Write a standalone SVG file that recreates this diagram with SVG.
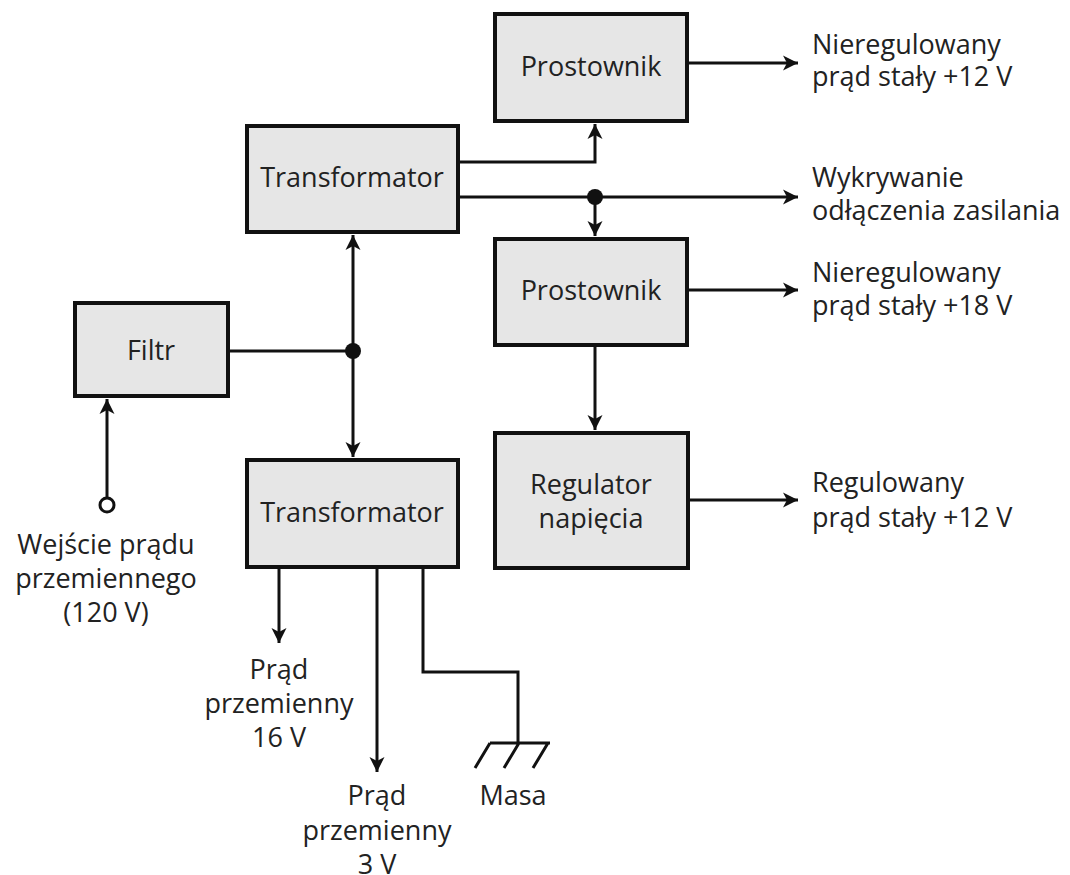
<svg xmlns="http://www.w3.org/2000/svg" width="1070" height="875" viewBox="0 0 1070 875">
  <style>
    .box { fill: #e6e6e6; stroke: #111; stroke-width: 4; }
    .wire { fill: none; stroke: #111; stroke-width: 3; stroke-linejoin: miter; }
    .arrow { marker-end: url(#head); }
    .both { marker-start: url(#head); marker-end: url(#head); }
    .dot { fill: #111; }
    text { font-family: "Open Sans", "Noto Sans", "Liberation Sans", sans-serif; font-size: 27px; fill: #222; }
    .c { text-anchor: middle; }
  </style>
  <defs>
    <marker id="head" viewBox="-16 -9 17 18" refX="0" refY="0" markerWidth="17" markerHeight="18" markerUnits="userSpaceOnUse" orient="auto-start-reverse">
      <path d="M0,0 L-15,-7.5 L-11,0 L-15,7.5 Z" fill="#111"/>
    </marker>
  </defs>

  <!-- connectors -->
  <g id="connectors">
    <!-- AC input to filter -->
    <path class="wire arrow" d="M107,497 V399"/>
    <circle cx="107" cy="505" r="7" fill="#fff" stroke="#111" stroke-width="3"/>
    <!-- filter to both transformers -->
    <path class="wire" d="M230,351 H353"/>
    <path class="wire both" d="M353,235 V457"/>
    <circle class="dot" cx="353" cy="351" r="8"/>
    <!-- upper transformer outputs -->
    <path class="wire arrow" d="M460,162 H595 V124"/>
    <path class="wire arrow" d="M460,197 H798"/>
    <path class="wire arrow" d="M595,197 V236"/>
    <circle class="dot" cx="595" cy="197" r="8"/>
    <!-- rectifier outputs -->
    <path class="wire arrow" d="M689,63 H798"/>
    <path class="wire arrow" d="M689,290 H798"/>
    <path class="wire arrow" d="M595,347 V430"/>
    <path class="wire arrow" d="M690,500 H798"/>
    <!-- lower transformer outputs -->
    <path class="wire arrow" d="M279,569 V643"/>
    <path class="wire arrow" d="M377,569 V772"/>
    <path class="wire" d="M423,569 V672 H518 V743"/>
    <!-- ground symbol -->
    <path class="wire" d="M490,743 H550 M490,743 L475,768 M519,743 L504,768 M548,743 L533,768"/>
  </g>

  <!-- blocks -->
  <g id="filtr">
    <rect class="box" x="75" y="303" width="153" height="93"/>
    <text class="c" x="151" y="360">Filtr</text>
  </g>
  <g id="transformator-gorny">
    <rect class="box" x="247" y="126" width="211" height="106"/>
    <text class="c" x="352" y="187">Transformator</text>
  </g>
  <g id="transformator-dolny">
    <rect class="box" x="247" y="460" width="211" height="107"/>
    <text class="c" x="352" y="522">Transformator</text>
  </g>
  <g id="prostownik-12">
    <rect class="box" x="495" y="14" width="192" height="107"/>
    <text class="c" x="591" y="76">Prostownik</text>
  </g>
  <g id="prostownik-18">
    <rect class="box" x="495" y="239" width="192" height="106"/>
    <text class="c" x="591" y="300">Prostownik</text>
  </g>
  <g id="regulator">
    <rect class="box" x="495" y="433" width="193" height="135"/>
    <text class="c" x="591" y="494">Regulator</text>
    <text class="c" x="591" y="528">napięcia</text>
  </g>

  <!-- labels -->
  <g id="wejscie">
    <text class="c" x="106" y="554">Wejście prądu</text>
    <text class="c" x="106" y="588">przemiennego</text>
    <text class="c" x="106" y="622">(120 V)</text>
  </g>
  <g id="wyjscie-16v">
    <text class="c" x="279" y="679">Prąd</text>
    <text class="c" x="279" y="713">przemienny</text>
    <text class="c" x="279" y="747">16 V</text>
  </g>
  <g id="wyjscie-3v">
    <text class="c" x="377" y="805">Prąd</text>
    <text class="c" x="377" y="840">przemienny</text>
    <text class="c" x="377" y="874">3 V</text>
  </g>
  <g id="masa">
    <text class="c" x="513" y="805">Masa</text>
  </g>
  <g id="wyjscie-12v-nieregulowane">
    <text x="812" y="54">Nieregulowany</text>
    <text x="812" y="86">prąd stały +12 V</text>
  </g>
  <g id="wykrywanie">
    <text x="812" y="187">Wykrywanie</text>
    <text x="812" y="220">odłączenia zasilania</text>
  </g>
  <g id="wyjscie-18v">
    <text x="812" y="282">Nieregulowany</text>
    <text x="812" y="315">prąd stały +18 V</text>
  </g>
  <g id="wyjscie-12v-regulowane">
    <text x="812" y="492">Regulowany</text>
    <text x="812" y="527">prąd stały +12 V</text>
  </g>
</svg>
